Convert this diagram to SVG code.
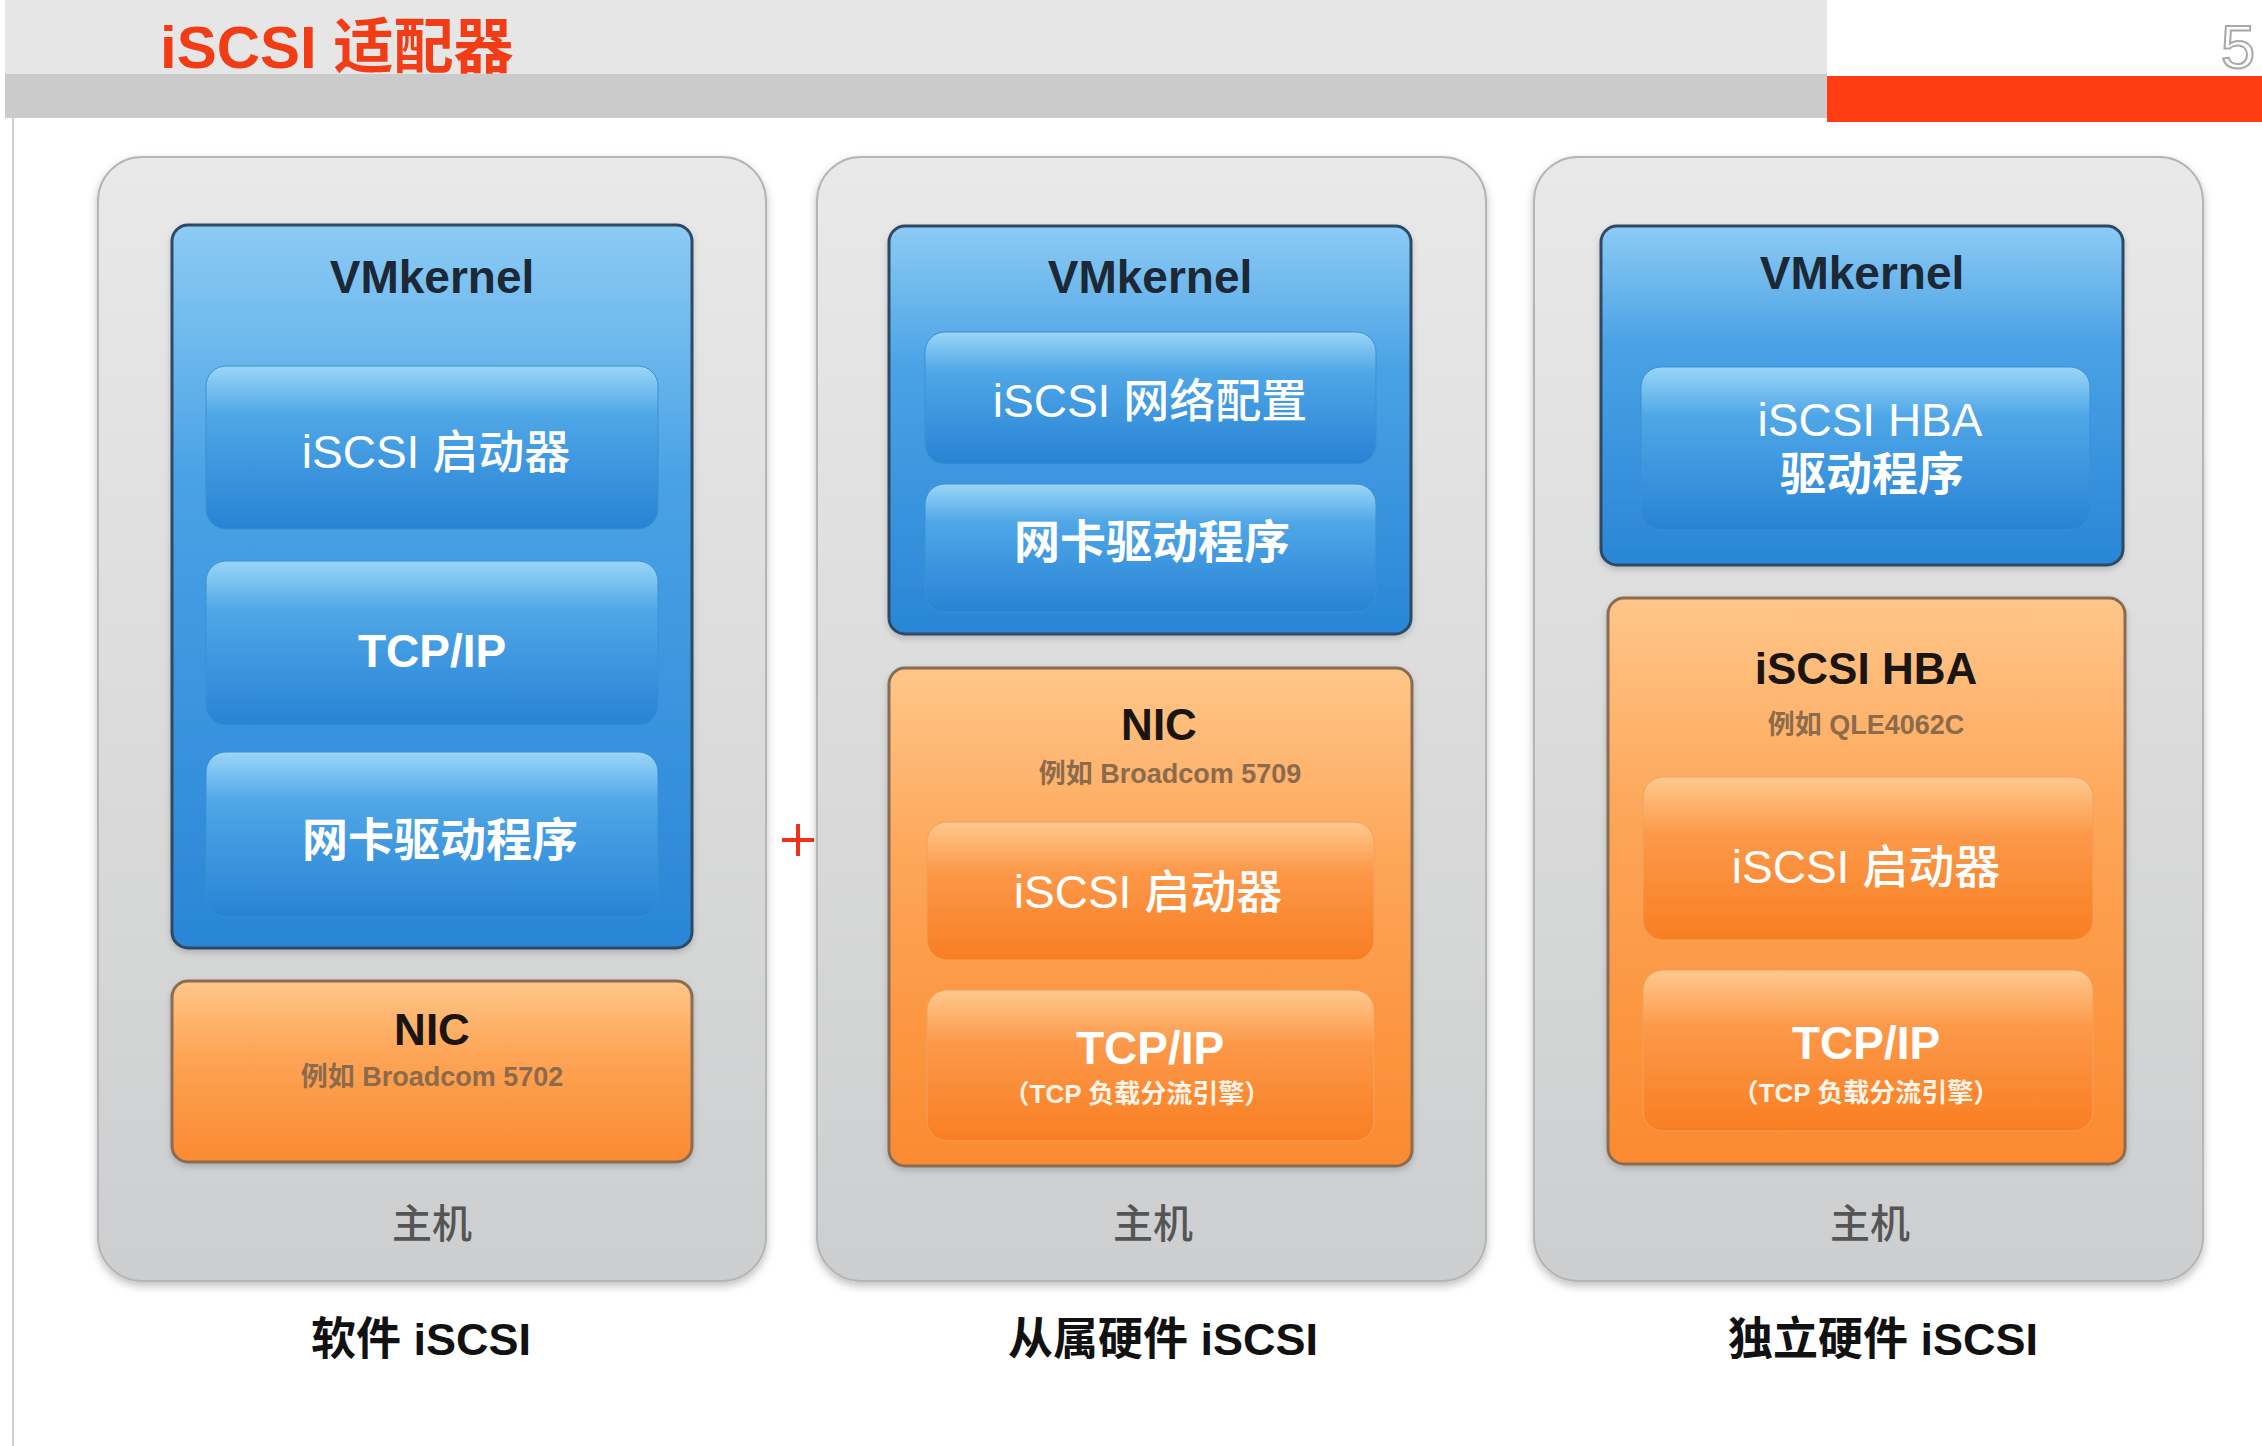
<svg xmlns="http://www.w3.org/2000/svg" width="2262" height="1446" viewBox="0 0 2262 1446">
<defs>
  <linearGradient id="gPanel" x1="0" y1="0" x2="0" y2="1">
    <stop offset="0" stop-color="#e9e9e9"/>
    <stop offset="1" stop-color="#cdcecf"/>
  </linearGradient>
  <linearGradient id="gBlue" x1="0" y1="0" x2="0" y2="1">
    <stop offset="0" stop-color="#8ccbf4"/>
    <stop offset="0.35" stop-color="#4aa2e5"/>
    <stop offset="1" stop-color="#2a86d7"/>
  </linearGradient>
  <linearGradient id="gBlueSub" x1="0" y1="0" x2="0" y2="1">
    <stop offset="0" stop-color="#9ad6f8"/>
    <stop offset="0.3" stop-color="#4fa7e7"/>
    <stop offset="1" stop-color="#2883d4"/>
  </linearGradient>
  <linearGradient id="gOrange" x1="0" y1="0" x2="0" y2="1">
    <stop offset="0" stop-color="#ffc689"/>
    <stop offset="0.4" stop-color="#fda557"/>
    <stop offset="1" stop-color="#fb8a30"/>
  </linearGradient>
  <linearGradient id="gOrangeSub" x1="0" y1="0" x2="0" y2="1">
    <stop offset="0" stop-color="#ffc98e"/>
    <stop offset="0.35" stop-color="#fc994a"/>
    <stop offset="1" stop-color="#f97e22"/>
  </linearGradient>
  <filter id="shadow" x="-5%" y="-5%" width="110%" height="110%">
    <feDropShadow dx="0" dy="4" stdDeviation="4" flood-color="#000" flood-opacity="0.25"/>
  </filter>
  <filter id="softShadow" x="-5%" y="-10%" width="110%" height="125%">
    <feDropShadow dx="0" dy="3" stdDeviation="3" flood-color="#000" flood-opacity="0.18"/>
  </filter>
</defs>
<style>
  text { font-family: "Liberation Sans", "Noto Sans CJK SC", sans-serif; text-anchor: middle; }
  .panel { fill: url(#gPanel); stroke: #b5b5b5; stroke-width: 2; }
  .blue { fill: url(#gBlue); stroke: #2d4a66; stroke-width: 3; }
  .bsub { fill: url(#gBlueSub); stroke: #3d8fd2; stroke-width: 1; }
  .orange { fill: url(#gOrange); stroke: #8a6c52; stroke-width: 3; }
  .osub { fill: url(#gOrangeSub); stroke: #f2a060; stroke-width: 1; }
  .hdr { font-size: 46px; font-weight: bold; fill: #1c2836; }
  .wt { font-size: 46px; fill: #ffffff; font-weight: 500; }
  .wtb { font-size: 46px; fill: #ffffff; font-weight: bold; }
  .nic { font-size: 44px; font-weight: bold; fill: #1a1512; }
  .eg { font-size: 27px; fill: #8c6a4c; font-weight: bold; }
  .small { font-size: 26px; fill: #fff4e8; font-weight: bold; }
  .host { font-size: 40px; fill: #555555; font-weight: 500; }
  .cap { font-size: 45px; fill: #111111; font-weight: bold; }
</style>

<rect x="0" y="0" width="2262" height="1446" fill="#ffffff"/>

<g id="header">
  <rect x="5" y="0" width="1822" height="74" fill="#e6e6e6"/>
  <rect x="5" y="74" width="1822" height="44" fill="#cbcbcb"/>
  <rect x="1827" y="76" width="435" height="46" fill="#ff3c12"/>
  <line x1="13" y1="118" x2="13" y2="1446" stroke="#d0d0d0" stroke-width="2"/>
  <text x="160" y="68" style="text-anchor:start;font-size:60px;font-weight:bold;fill:#f23c16">iSCSI 适配器</text>
  <text x="2238" y="68" style="font-size:62px;fill:#ffffff;stroke:#a9a9a9;stroke-width:2">5</text>
</g>

<g id="plus">
  <line x1="782" y1="840" x2="814" y2="840" stroke="#f0321a" stroke-width="4"/>
  <line x1="798" y1="824" x2="798" y2="856" stroke="#f0321a" stroke-width="4"/>
</g>

<g id="connectors"></g>

<!-- Panel 1: Software iSCSI -->
<g id="host-software">
  <rect class="panel" x="98" y="157" width="668" height="1124" rx="44" filter="url(#shadow)"/>
  <text class="host" x="432" y="1238">主机</text>
</g>
<g id="vmkernel-1">
  <rect class="blue" x="172" y="225" width="520" height="723" rx="16" filter="url(#softShadow)"/>
  <text class="hdr" x="432" y="293">VMkernel</text>
</g>
<g id="sw-initiator">
  <rect class="bsub" x="206" y="366" width="452" height="163" rx="20"/>
  <text class="wt" x="436" y="468">iSCSI 启动器</text>
</g>
<g id="sw-tcpip">
  <rect class="bsub" x="206" y="561" width="452" height="164" rx="20"/>
  <text class="wtb" x="432" y="667">TCP/IP</text>
</g>
<g id="sw-nicdriver">
  <rect class="bsub" x="206" y="752" width="452" height="165" rx="20"/>
  <text class="wtb" x="440" y="856">网卡驱动程序</text>
</g>
<g id="nic-1">
  <rect class="orange" x="172" y="981" width="520" height="181" rx="16" filter="url(#softShadow)"/>
  <text class="nic" x="432" y="1045">NIC</text>
  <text class="eg" x="432" y="1086">例如 Broadcom 5702</text>
</g>
<g id="label-1">
  <text class="cap" x="421" y="1355">软件 iSCSI</text>
</g>

<!-- Panel 2: Dependent hardware iSCSI -->
<g id="host-dependent">
  <rect class="panel" x="817" y="157" width="669" height="1124" rx="44" filter="url(#shadow)"/>
  <text class="host" x="1153" y="1238">主机</text>
</g>
<g id="vmkernel-2">
  <rect class="blue" x="889" y="226" width="522" height="408" rx="16" filter="url(#softShadow)"/>
  <text class="hdr" x="1150" y="293">VMkernel</text>
</g>
<g id="dep-netconfig">
  <rect class="bsub" x="925" y="332" width="451" height="132" rx="20"/>
  <text class="wt" x="1150" y="417">iSCSI 网络配置</text>
</g>
<g id="dep-nicdriver">
  <rect class="bsub" x="925" y="484" width="451" height="128" rx="20"/>
  <text class="wtb" x="1152" y="558">网卡驱动程序</text>
</g>
<g id="nic-2">
  <rect class="orange" x="889" y="668" width="523" height="498" rx="16" filter="url(#softShadow)"/>
  <text class="nic" x="1159" y="740">NIC</text>
  <text class="eg" x="1170" y="783">例如 Broadcom 5709</text>
</g>
<g id="dep-initiator">
  <rect class="osub" x="927" y="822" width="447" height="138" rx="20"/>
  <text class="wt" x="1148" y="908">iSCSI 启动器</text>
</g>
<g id="dep-tcpip">
  <rect class="osub" x="927" y="990" width="447" height="151" rx="20"/>
  <text class="wtb" x="1150" y="1064">TCP/IP</text>
  <text class="small" x="1137" y="1103">（TCP 负载分流引擎）</text>
</g>
<g id="label-2">
  <text class="cap" x="1163" y="1355">从属硬件 iSCSI</text>
</g>

<!-- Panel 3: Independent hardware iSCSI -->
<g id="host-independent">
  <rect class="panel" x="1534" y="157" width="669" height="1124" rx="44" filter="url(#shadow)"/>
  <text class="host" x="1870" y="1238">主机</text>
</g>
<g id="vmkernel-3">
  <rect class="blue" x="1601" y="226" width="522" height="339" rx="16" filter="url(#softShadow)"/>
  <text class="hdr" x="1862" y="289">VMkernel</text>
</g>
<g id="hba-driver">
  <rect class="bsub" x="1641" y="367" width="449" height="163" rx="20"/>
  <text class="wt" x="1870" y="436">iSCSI HBA</text>
  <text class="wtb" x="1872" y="490">驱动程序</text>
</g>
<g id="hba">
  <rect class="orange" x="1608" y="598" width="517" height="566" rx="16" filter="url(#softShadow)"/>
  <text class="nic" x="1866" y="684">iSCSI HBA</text>
  <text class="eg" x="1866" y="734">例如 QLE4062C</text>
</g>
<g id="hba-initiator">
  <rect class="osub" x="1643" y="777" width="450" height="163" rx="20"/>
  <text class="wt" x="1866" y="883">iSCSI 启动器</text>
</g>
<g id="hba-tcpip">
  <rect class="osub" x="1643" y="970" width="450" height="161" rx="20"/>
  <text class="wtb" x="1866" y="1059">TCP/IP</text>
  <text class="small" x="1866" y="1102">（TCP 负载分流引擎）</text>
</g>
<g id="label-3">
  <text class="cap" x="1883" y="1355">独立硬件 iSCSI</text>
</g>
</svg>
